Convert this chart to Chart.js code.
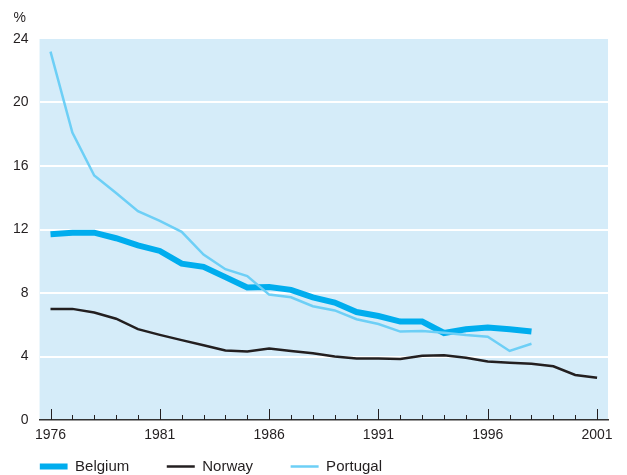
<!DOCTYPE html>
<html>
<head>
<meta charset="utf-8">
<script src="https://cdn.jsdelivr.net/npm/chart.js@4/dist/chart.umd.min.js"></script>
<style>
  html, body { margin: 0; padding: 0; background: #fff; }
  #wrap { width: 627px; height: 475px; position: relative; }
</style>
</head>
<body>
<div id="wrap"><canvas id="Chart"></canvas></div>
<script>
var years = [1976,1977,1978,1979,1980,1981,1982,1983,1984,1985,1986,1987,1988,
             1989,1990,1991,1992,1993,1994,1995,1996,1997,1998,1999,2000,2001];
var belgium = [11.7,11.8,11.8,11.45,11.0,10.65,9.85,9.65,9.0,8.35,8.38,8.2,7.72,
               7.4,6.8,6.55,6.2,6.2,5.48,5.72,5.83,5.72,5.57,null,null,null];
var norway = [7.0,7.0,6.77,6.38,5.72,5.36,5.03,4.71,4.38,4.32,4.5,4.34,4.2,
              4.0,3.88,3.88,3.84,4.04,4.08,3.92,3.68,3.6,3.55,3.38,2.84,2.66];
var portugal = [23.2,18.1,15.4,14.3,13.15,12.55,11.85,10.42,9.5,9.07,7.9,7.73,7.17,
                6.9,6.35,6.05,5.57,5.6,5.5,5.35,5.25,4.35,4.8,null,null,null];
var yTicks = [0,4,8,12,16,20,24];

function pts(arr) {
    var out = [];
    years.forEach(function(y, i) {
        if (arr[i] !== null) out.push({x: y, y: arr[i]});
    });
    return out;
}

var textColor = '#231f20';
var fontFam = '"Liberation Sans", Arial, sans-serif';
var gap = '         '; // spacing between legend entries

var Data = {
    datasets: [{
        label: 'Belgium' + gap,
        data: pts(belgium),
        borderColor: '#00adee',
        backgroundColor: '#00adee',
        borderWidth: 6,
        order: 2
    },{
        label: 'Norway' + gap,
        data: pts(norway),
        borderColor: '#231f20',
        backgroundColor: '#231f20',
        borderWidth: 2.5,
        order: 1
    },{
        label: 'Portugal',
        data: pts(portugal),
        borderColor: '#6dcff6',
        backgroundColor: '#6dcff6',
        borderWidth: 2.5,
        order: 0
    }]
};

// plot background, inner tick marks and the % label
var decor = {
    id: 'decor',
    beforeDraw: function(chart) {
        var a = chart.chartArea, ctx = chart.ctx;
        ctx.save();
        ctx.fillStyle = '#d5ecf9';
        ctx.fillRect(a.left, a.top, a.right - a.left, a.bottom - a.top);
        ctx.restore();
    },
    afterDraw: function(chart) {
        var a = chart.chartArea, ctx = chart.ctx, xs = chart.scales.x;
        ctx.save();
        ctx.strokeStyle = textColor;
        ctx.lineWidth = 1;
        years.forEach(function(y) {
            var px = Math.round(xs.getPixelForValue(y)) + 0.5;
            var len = (y - 1976) % 5 === 0 ? 11 : 5;
            ctx.beginPath();
            ctx.moveTo(px, a.bottom);
            ctx.lineTo(px, a.bottom - len);
            ctx.stroke();
        });
        ctx.fillStyle = textColor;
        ctx.font = '14px ' + fontFam;
        ctx.textBaseline = 'middle';
        ctx.fillText('%', a.left - 26, a.top - 21);
        ctx.restore();
    }
};

var Options = {
    responsive: false,
    animation: false,
    layout: { padding: { left: 2, right: 19, top: 39, bottom: -9 } },
    elements: { point: { radius: 0 }, line: { tension: 0, borderCapStyle: 'butt', borderJoinStyle: 'miter' } },
    plugins: {
        tooltip: { enabled: false },
        legend: {
            position: 'bottom',
            align: 'start',
            fullSize: false,
            labels: {
                usePointStyle: true,
                pointStyle: 'line',
                pointStyleWidth: 28,
                padding: 0,
                color: textColor,
                font: { size: 15, family: fontFam },
                sort: function(a, b) { return a.datasetIndex - b.datasetIndex; }
            }
        }
    },
    scales: {
        x: {
            type: 'linear',
            min: 1975.5,
            max: 2001.5,
            afterBuildTicks: function(scale) {
                scale.ticks = years.map(function(y) { return {value: y}; });
            },
            afterFit: function(scale) { scale.height = 39; },
            ticks: {
                autoSkip: false,
                maxRotation: 0,
                padding: 7,
                color: textColor,
                font: { size: 14, family: fontFam },
                callback: function(v) { return (v - 1976) % 5 === 0 ? String(v) : ''; }
            },
            grid: { display: false, drawTicks: false },
            border: { display: true, color: '#333333', width: 1.5 }
        },
        y: {
            min: 0,
            max: 24,
            afterBuildTicks: function(scale) {
                scale.ticks = yTicks.map(function(v) { return {value: v}; });
            },
            ticks: {
                padding: 11,
                color: textColor,
                font: { size: 14, family: fontFam }
            },
            grid: {
                drawTicks: false,
                lineWidth: 2,
                color: function(c) {
                    var v = c.tick ? c.tick.value : 0;
                    return (v > 0 && v < 24) ? '#ffffff' : 'rgba(0,0,0,0)';
                }
            },
            border: { display: false }
        }
    }
};

var canvas = document.getElementById('Chart');
canvas.width = 627;
canvas.height = 475;
var myChart = new Chart(canvas.getContext('2d'), {
    type: 'line',
    data: Data,
    options: Options,
    plugins: [decor]
});
</script>
</body>
</html>
